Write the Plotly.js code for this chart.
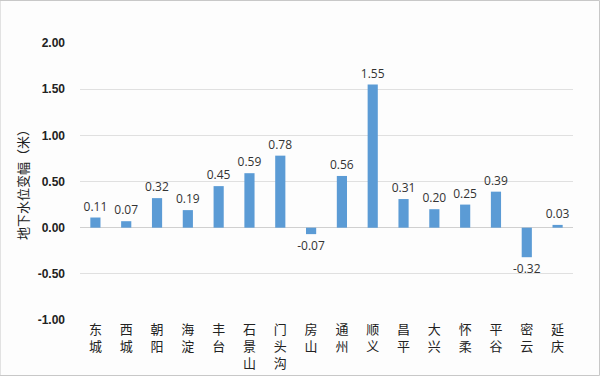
<!DOCTYPE html>
<html><head><meta charset="utf-8">
<script src="https://cdn.plot.ly/plotly-3.0.1.min.js"></script>
<style>html,body{margin:0;padding:0;background:#fff}#c{width:600px;height:376px}</style>
</head><body><div id="c"></div>
<script>
const districts = ["东城","西城","朝阳","海淀","丰台","石景山","门头沟","房山","通州","顺义","昌平","大兴","怀柔","平谷","密云","延庆"];
const changes = [0.11,0.07,0.32,0.19,0.45,0.59,0.78,-0.07,0.56,1.55,0.31,0.20,0.25,0.39,-0.32,0.03];
const yTicks = [-1,-0.5,0,0.5,1,1.5,2];

const vertical = districts.map(s => s.split('').join('<br>'));
Plotly.newPlot('c', [{
  type:'bar', x: vertical, y: changes,
  marker:{color:'#5B9BD5'},
  text: changes.map(v=>v.toFixed(2)), textposition:'outside', cliponaxis:false, constraintext:'none',
  textfont:{family:'Open Sans, Liberation Sans, sans-serif', size:12, color:'#333'},
  hoverinfo:'none'
}], {
  width:600, height:376,
  margin:{l:80, r:27, t:43, b:56},
  paper_bgcolor:'#fdfdfd', plot_bgcolor:'#fdfdfd',
  bargap:0.67, showlegend:false,
  xaxis:{tickfont:{family:'Noto Sans CJK SC', size:13, color:'#222'}, showline:false, ticks:'', automargin:false},
  yaxis:{range:[-1,2], tickvals:yTicks, ticktext:yTicks.map(v=>v.toFixed(2)),
    tickfont:{family:'Liberation Sans, sans-serif', size:12, color:'#222', weight:'bold'},
    gridcolor:'#e0e0e0', zeroline:true, zerolinecolor:'#d0d0d0', zerolinewidth:1, ticklabelstandoff:14, automargin:false,
    title:{text:'地下水位变幅（米）', font:{family:'Noto Sans CJK SC', size:13, color:'#222'}, standoff:6}},
  shapes:[{type:'rect', xref:'paper', yref:'paper', x0:-80/493, x1:1+26.5/493, y0:-55.5/277, y1:1+42.5/277, line:{color:'#c8c8c8', width:1}}]
}, {staticPlot:true});
</script></body></html>
